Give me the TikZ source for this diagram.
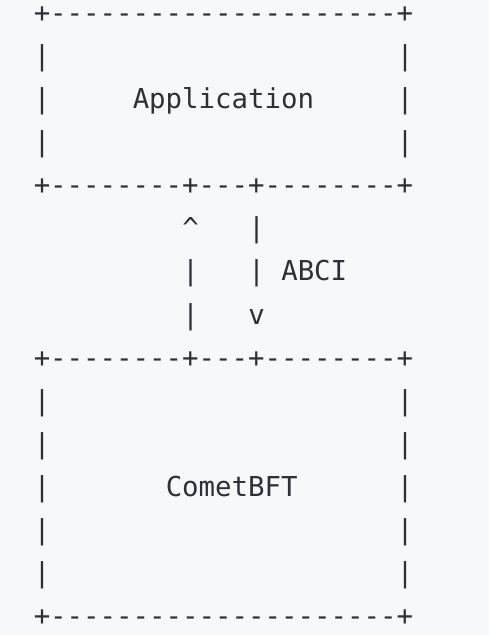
\documentclass[tikz,border=0pt]{standalone}
\usepackage{fontspec}
\setmonofont{DejaVu Sans Mono}
\definecolor{bgc}{RGB}{246,248,250}
\definecolor{txc}{RGB}{45,48,54}
\newcommand\asc[4]{\node[txt] (#1) at ({33.75+16.5*#2},{23+43*#3}) {#4};}
\begin{document}
\begin{tikzpicture}[x=0.5pt,y=-0.5pt,
  txt/.style={anchor=base west,inner sep=0pt,outer sep=0pt,text=txc,
    font=\ttfamily\fontsize{13.7}{16}\selectfont}]
\fill[bgc] (0,0) rectangle (489,635);
\useasboundingbox (0,0) rectangle (489,635);
% Application box
\asc{top}{0}{0}{+---------------------+}
\asc{l1}{0}{1}{|}\asc{r1}{22}{1}{|}
\asc{l2}{0}{2}{|}\asc{app}{6}{2}{Application}\asc{r2}{22}{2}{|}
\asc{l3}{0}{3}{|}\asc{r3}{22}{3}{|}
\asc{mid1}{0}{4}{+--------+---+--------+}
% ABCI arrows
\asc{up}{9}{5}{\textasciicircum}\asc{dn1}{13}{5}{|}
\asc{up2}{9}{6}{|}\asc{dn2}{13}{6}{|}\asc{abci}{15}{6}{ABCI}
\asc{up3}{9}{7}{|}\asc{dn3}{13}{7}{v}
\asc{mid2}{0}{8}{+--------+---+--------+}
% CometBFT box
\asc{l9}{0}{9}{|}\asc{r9}{22}{9}{|}
\asc{l10}{0}{10}{|}\asc{r10}{22}{10}{|}
\asc{l11}{0}{11}{|}\asc{cbft}{8}{11}{CometBFT}\asc{r11}{22}{11}{|}
\asc{l12}{0}{12}{|}\asc{r12}{22}{12}{|}
\asc{l13}{0}{13}{|}\asc{r13}{22}{13}{|}
\asc{bot}{0}{14}{+---------------------+}
\end{tikzpicture}
\end{document}
